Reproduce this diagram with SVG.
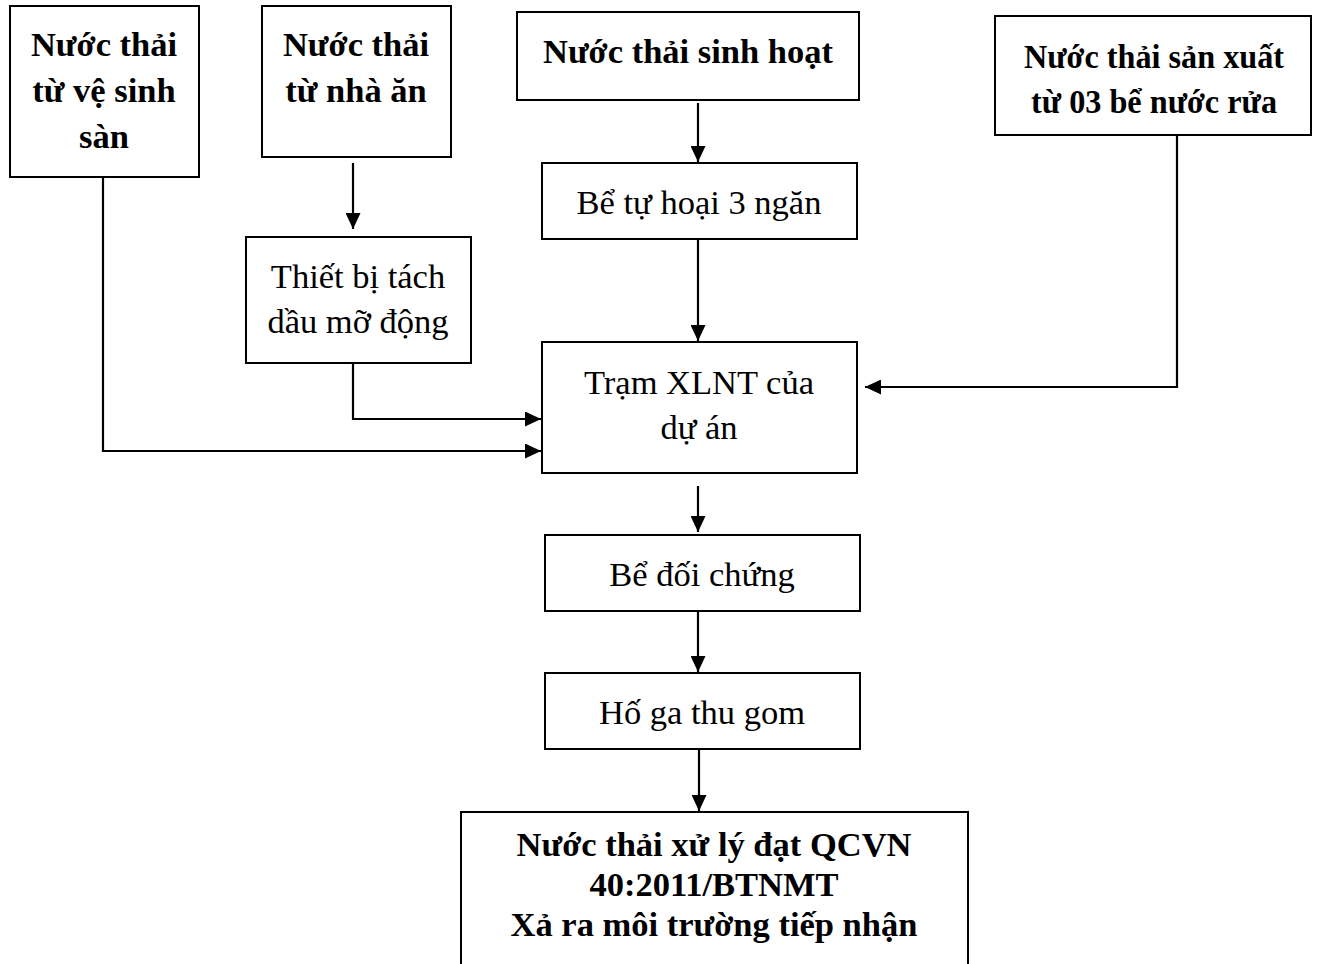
<svg xmlns="http://www.w3.org/2000/svg" width="1317" height="964" viewBox="0 0 1317 964">
  <style>
    rect { fill: #fff; stroke: #000; stroke-width: 2; }
    text { font-family: "Liberation Serif", "Times New Roman", serif; font-size: 34.5px; fill: #000; text-anchor: middle; }
    .b { font-weight: bold; }
    .wire { fill: none; stroke: #000; stroke-width: 2.2; }
  </style>
  <defs>
    <marker id="arr" viewBox="0 0 16 15" refX="16" refY="7.5" markerWidth="16" markerHeight="15" markerUnits="userSpaceOnUse" orient="auto">
      <path d="M0,0 L16,7.5 L0,15 Z" fill="#000"/>
    </marker>
  </defs>

  <rect width="1317" height="964" style="stroke:none"/>

  <g id="n-vesinh">
    <rect x="10" y="6" width="189" height="171"/>
    <text class="b" x="104" y="56">Nước thải</text>
    <text class="b" x="104" y="102">từ vệ sinh</text>
    <text class="b" x="104" y="148">sàn</text>
  </g>

  <g id="n-nhaan">
    <rect x="262" y="6" width="189" height="151"/>
    <text class="b" x="356" y="56">Nước thải</text>
    <text class="b" x="356" y="102">từ nhà ăn</text>
  </g>

  <g id="n-sinhhoat">
    <rect x="517" y="12" width="342" height="88"/>
    <text class="b" x="688" y="63">Nước thải sinh hoạt</text>
  </g>

  <g id="n-sanxuat">
    <rect x="995" y="16" width="316" height="119"/>
    <text class="b" x="1154" y="68" textLength="260" lengthAdjust="spacingAndGlyphs">Nước thải sản xuất</text>
    <text class="b" x="1154" y="113" textLength="246" lengthAdjust="spacingAndGlyphs">từ 03 bể nước rửa</text>
  </g>

  <g id="n-tuhoai">
    <rect x="542" y="163" width="315" height="76"/>
    <text x="699" y="214">Bể tự hoại 3 ngăn</text>
  </g>

  <g id="n-tachdau">
    <rect x="246" y="237" width="225" height="126"/>
    <text x="358" y="288">Thiết bị tách</text>
    <text x="358" y="333">dầu mỡ động</text>
  </g>

  <g id="n-tram">
    <rect x="542" y="342" width="315" height="131"/>
    <text x="699" y="394">Trạm XLNT của</text>
    <text x="699" y="439">dự án</text>
  </g>

  <g id="n-doichung">
    <rect x="545" y="535" width="315" height="76"/>
    <text x="702" y="586">Bể đối chứng</text>
  </g>

  <g id="n-hoga">
    <rect x="545" y="673" width="315" height="76"/>
    <text x="702" y="724">Hố ga thu gom</text>
  </g>

  <g id="n-xara">
    <rect x="461" y="812" width="507" height="170"/>
    <text class="b" x="714" y="856">Nước thải xử lý đạt QCVN</text>
    <text class="b" x="714" y="896">40:2011/BTNMT</text>
    <text class="b" x="714" y="936">Xả ra môi trường tiếp nhận</text>
  </g>

  <g id="connectors">
    <path class="wire" d="M353,163 V229" marker-end="url(#arr)"/>
    <path class="wire" d="M698,103 V162" marker-end="url(#arr)"/>
    <path class="wire" d="M698,239 V341" marker-end="url(#arr)"/>
    <path class="wire" d="M353,363 V419 H541" marker-end="url(#arr)"/>
    <path class="wire" d="M103,177 V451 H541" marker-end="url(#arr)"/>
    <path class="wire" d="M1177,135 V387 H865" marker-end="url(#arr)"/>
    <path class="wire" d="M698,486 V532" marker-end="url(#arr)"/>
    <path class="wire" d="M698,611 V672" marker-end="url(#arr)"/>
    <path class="wire" d="M699,749 V811" marker-end="url(#arr)"/>
  </g>
</svg>
